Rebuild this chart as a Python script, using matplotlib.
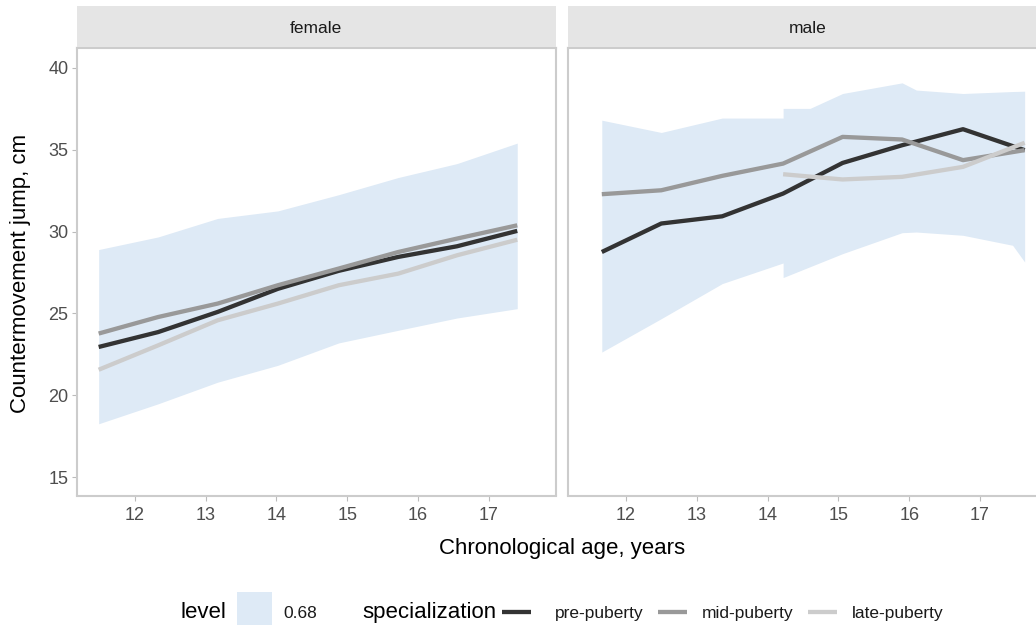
import numpy as np
import matplotlib
matplotlib.use("Agg")
import matplotlib.pyplot as plt
from matplotlib.patches import Rectangle
from matplotlib.lines import Line2D

plt.rcParams['font.family'] = ['Liberation Sans', 'DejaVu Sans']

# female panel: median lines per specialization group and the 0.68 interval band
female_age = [11.49, 12.33, 13.17, 14.02, 14.88, 15.72, 16.55, 17.40]
female_pre = [22.95, 23.86, 25.09, 26.50, 27.60, 28.45, 29.10, 30.04]
female_mid = [23.77, 24.78, 25.60, 26.72, 27.74, 28.75, 29.57, 30.38]
female_late = [21.56, 23.05, 24.58, 25.60, 26.72, 27.43, 28.55, 29.50]
female_band_lo = [18.26, 19.48, 20.80, 21.83, 23.20, 23.97, 24.72, 25.29]
female_band_hi = [28.90, 29.67, 30.80, 31.26, 32.25, 33.30, 34.15, 35.40]

# male panel
male_age = [11.66, 12.50, 13.36, 14.22, 15.06, 15.90, 16.76, 17.63]
male_pre = [28.75, 30.49, 30.93, 32.32, 34.19, 35.27, 36.25, 34.97]
male_mid = [32.28, 32.52, 33.40, 34.15, 35.78, 35.62, 34.36, 34.97]
male_late_age = [14.22, 15.06, 15.90, 16.76, 17.63]
male_late = [33.50, 33.18, 33.34, 33.95, 35.42]
male_band_age = [11.66, 12.50, 13.36, 14.22, 14.22, 14.60, 15.06, 15.90, 16.10, 16.76, 17.46, 17.63]
male_band_lo = [22.64, 24.68, 26.82, 28.08, 27.19, 27.85, 28.65, 29.93, 29.97, 29.77, 29.16, 28.14]
male_band_hi = [36.80, 36.05, 36.93, 36.93, 37.52, 37.52, 38.43, 39.08, 38.64, 38.43, 38.55, 38.57]

groups = ['pre-puberty', 'mid-puberty', 'late-puberty']
group_colors = ['#333333', '#999999', '#CCCCCC']
band_color = '#DEEAF6'
level = '0.68'

W, H = 1036, 625
fig = plt.figure(figsize=(W / 100, H / 100), dpi=100)

def px_box(left, top, right, bottom):
    return [left / W, 1 - bottom / H, (right - left) / W, (bottom - top) / H]

panels = [
    ('female', 76.7, 555.5,
     [(female_age, female_band_lo, female_band_hi)],
     [(female_age, female_pre), (female_age, female_mid), (female_age, female_late)]),
    ('male', 567.8, 1046.6,
     [(male_band_age, male_band_lo, male_band_hi)],
     [(male_age, male_pre), (male_age, male_mid), (male_late_age, male_late)]),
]

lw_line = 4.3 * 72 / 100
for name, left, right, bands, lines in panels:
    ax = fig.add_axes(px_box(left, 48.3, right, 495.5))
    for bx, lo, hi in bands:
        ax.fill_between(bx, lo, hi, color=band_color, lw=0, zorder=1)
    for (x, y), c in zip(lines, group_colors):
        ax.plot(x, y, color=c, lw=lw_line, solid_capstyle='butt', zorder=2)
    ax.set_xlim(11.18, 17.94)
    ax.set_ylim(13.88, 41.19)
    ax.set_xticks([12, 13, 14, 15, 16, 17])
    ax.set_yticks([15, 20, 25, 30, 35, 40])
    for s in ax.spines.values():
        s.set_color('#CCCCCC')
        s.set_linewidth(1.5)
    ax.tick_params(length=3.5, width=0.8, color='#BBBBBB', labelcolor='#4D4D4D',
                   labelsize=13, pad=2.5)
    ax.tick_params(axis='x', pad=5)
    if name == 'male':
        ax.tick_params(axis='y', left=False, labelleft=False)

    strip = fig.add_axes(px_box(left, 6, right, 47))
    strip.set_facecolor('#E5E5E5')
    strip.set_xticks([])
    strip.set_yticks([])
    for s in strip.spines.values():
        s.set_visible(False)
    strip.text(0.5, 0.45, name, transform=strip.transAxes, ha='center', va='center',
               fontsize=12.5, color='#1A1A1A')

fig.text(561.6 / W, 1 - 554 / H, 'Chronological age, years', ha='center',
         va='baseline', fontsize=16)
fig.text(21 / W, 1 - 273 / H, 'Countermovement jump, cm', rotation=90,
         ha='center', va='center', fontsize=16)

# legend row at the bottom
base = 1 - 618 / H
fig.text(180 / W, base, 'level', fontsize=16, va='baseline')
fig.patches.append(Rectangle((236.7 / W, 1 - 632 / H), 35 / W, 40 / H,
                             transform=fig.transFigure, color=band_color, lw=0))
fig.text(283 / W, base, level, fontsize=12.5, va='baseline', color='#1A1A1A')
fig.text(362.7 / W, base, 'specialization', fontsize=16, va='baseline')
key_x = [501.7, 658, 808]
label_x = [555, 701.7, 851.7]
for g, c, kx, lx in zip(groups, group_colors, key_x, label_x):
    fig.lines.append(Line2D([kx / W, (kx + 29) / W], [1 - 611.7 / H] * 2,
                            transform=fig.transFigure, color=c, lw=lw_line,
                            solid_capstyle='butt'))
    fig.text(lx / W, base, g, fontsize=12.5, va='baseline', color='#1A1A1A')

fig.savefig('out.png', dpi=100)
